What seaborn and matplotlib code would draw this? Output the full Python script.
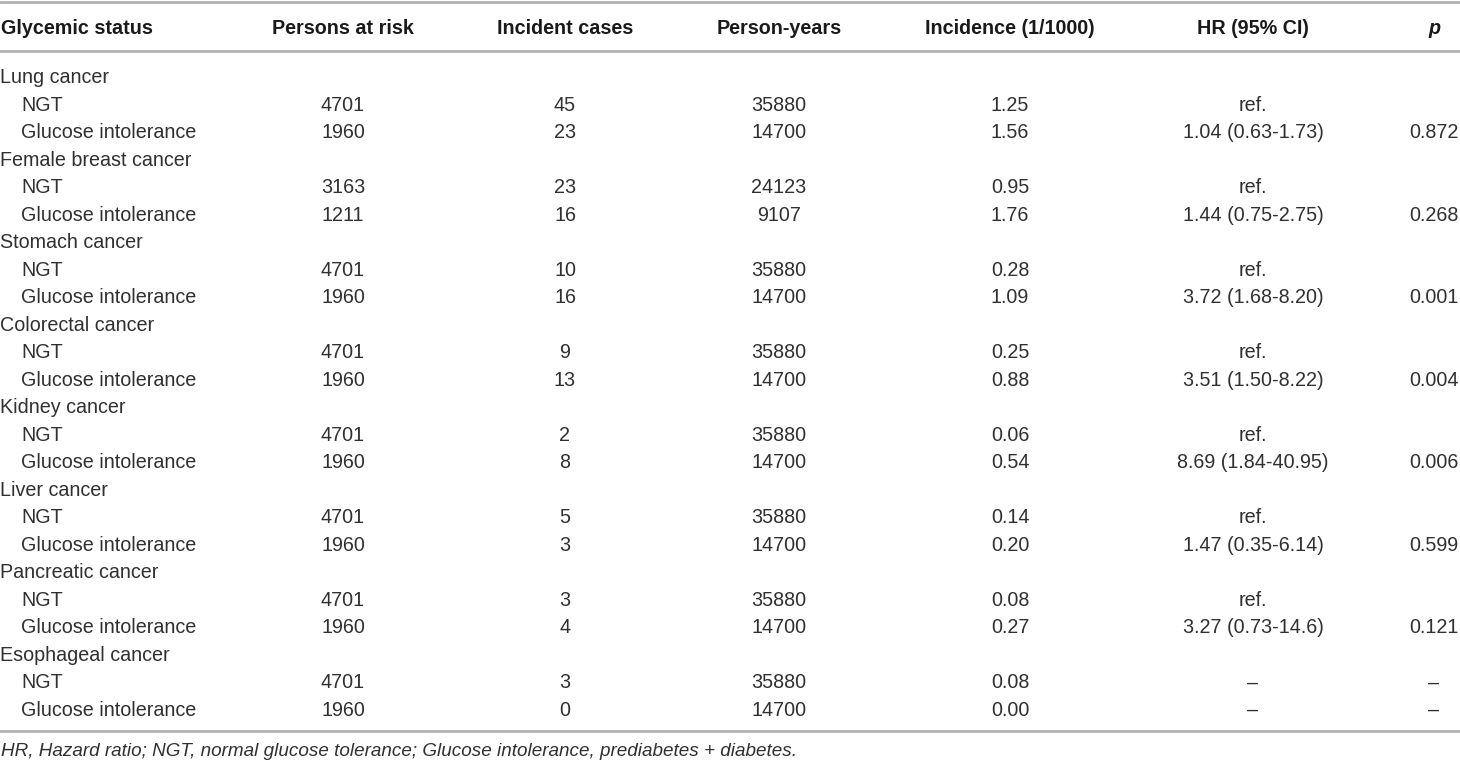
import matplotlib
matplotlib.use("Agg")
import matplotlib.pyplot as plt
import seaborn as sns
import pandas as pd

# table content
headers = ["Glycemic status", "Persons at risk", "Incident cases", "Person-years",
           "Incidence (1/1000)", "HR (95% CI)", "p"]
cancers = ["Lung cancer", "Female breast cancer", "Stomach cancer", "Colorectal cancer",
           "Kidney cancer", "Liver cancer", "Pancreatic cancer", "Esophageal cancer"]
groups = ["NGT", "Glucose intolerance"]

persons = [[4701, 1960], [3163, 1211], [4701, 1960], [4701, 1960],
           [4701, 1960], [4701, 1960], [4701, 1960], [4701, 1960]]
cases = [[45, 23], [23, 16], [10, 16], [9, 13], [2, 8], [5, 3], [3, 4], [3, 0]]
pyears = [[35880, 14700], [24123, 9107], [35880, 14700], [35880, 14700],
          [35880, 14700], [35880, 14700], [35880, 14700], [35880, 14700]]
incidence = [["1.25", "1.56"], ["0.95", "1.76"], ["0.28", "1.09"], ["0.25", "0.88"],
             ["0.06", "0.54"], ["0.14", "0.20"], ["0.08", "0.27"], ["0.08", "0.00"]]
hr = [["ref.", "1.04 (0.63-1.73)"], ["ref.", "1.44 (0.75-2.75)"],
      ["ref.", "3.72 (1.68-8.20)"], ["ref.", "3.51 (1.50-8.22)"],
      ["ref.", "8.69 (1.84-40.95)"], ["ref.", "1.47 (0.35-6.14)"],
      ["ref.", "3.27 (0.73-14.6)"], ["\u2013", "\u2013"]]
pvals = [["", "0.872"], ["", "0.268"], ["", "0.001"], ["", "0.004"],
         ["", "0.006"], ["", "0.599"], ["", "0.121"], ["\u2013", "\u2013"]]
footnote = ("HR, Hazard ratio; NGT, normal glucose tolerance; "
            "Glucose intolerance, prediabetes + diabetes.")

rows = []
for i, c in enumerate(cancers):
    rows.append(dict(label=c, indent=False, vals=["", "", "", "", "", ""]))
    for j, g in enumerate(groups):
        rows.append(dict(label=g, indent=True,
                         vals=[str(persons[i][j]), str(cases[i][j]), str(pyears[i][j]),
                               incidence[i][j], hr[i][j], pvals[i][j]]))
df = pd.DataFrame(rows)

sns.set_theme(style="white")
plt.rcParams["font.family"] = ["Liberation Sans", "DejaVu Sans"]

W, H = 1460, 763
fig = plt.figure(figsize=(W / 100, H / 100), dpi=100)
ax = fig.add_axes([0, 0, 1, 1])
ax.set_xlim(0, W)
ax.set_ylim(H, 0)
ax.axis("off")

col_x = [343, 565, 779, 1010, 1253, 1434]
line_col = "#b3b3b3"
txt_col = "#303030"
fs = 14.2

ax.axhline(1.5, color=line_col, lw=2)
ax.axhline(51, color=line_col, lw=2)
ax.axhline(731, color=line_col, lw=2)

ax.text(1, 29, headers[0], ha="left", va="center", fontsize=fs, fontweight="bold",
        color="#1a1a1a")
for x, h in zip(col_x, headers[1:]):
    ax.text(x, 29, h, ha="center", va="center", fontsize=fs, fontweight="bold",
            color="#1a1a1a", style="italic" if h == "p" else "normal")

y0, dy = 77.5, 27.52
for k, r in df.iterrows():
    y = y0 + k * dy
    ax.text(21 if r["indent"] else 0, y, r["label"], ha="left", va="center",
            fontsize=fs, color=txt_col)
    for x, v in zip(col_x, r["vals"]):
        if v:
            ax.text(x, y, v, ha="center", va="center", fontsize=fs, color=txt_col)

ax.text(1, 751, footnote, ha="left", va="center", fontsize=13.6, style="italic",
        color=txt_col)

fig.savefig("out.png", dpi=100)
